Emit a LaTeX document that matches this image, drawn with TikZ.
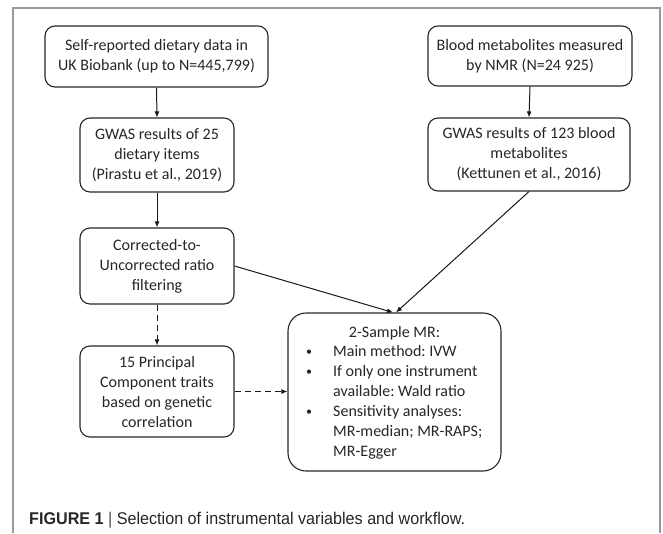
\documentclass[tikz,border=0pt]{standalone}
\usepackage{fontspec}
\setmainfont{Carlito}
\newfontfamily\capfont[FakeStretch=0.95]{Liberation Sans}
\usetikzlibrary{arrows.meta}
\frenchspacing
\begin{document}
\begin{tikzpicture}[x=1pt,y=-1pt,
  box/.style={draw=black!85, line width=1.1pt, rounded corners=10pt, align=center, inner sep=0pt,
    font=\fontsize{16}{20}\selectfont, text=black!85},
  txt/.style={inner sep=0pt, anchor=base west, font=\fontsize{16}{20}\selectfont, text=black!85},
  bul/.style={inner sep=0pt, anchor=base west, font=\fontsize{12}{20}\selectfont, text=black!85},
  conn/.style={draw=black!90, line width=1pt, -{Latex[length=6pt,width=5pt]}},
  dconn/.style={conn, dash pattern=on 6pt off 4pt},
  frameline/.style={draw=black!40, line width=1.5pt}]
\useasboundingbox (0,0) rectangle (663,533);
\draw[frameline] (13,533) -- (13,8) -- (660,8) -- (660,533);

\node[box, minimum width=223pt, minimum height=61pt] (b1) at (156.5,56.5)
  {Self-reported dietary data in\\UK Biobank (up to N=445,799)};
\node[box, minimum width=204pt, minimum height=60pt] (b2) at (530,56)
  {Blood metabolites measured\\by NMR (N=24 925)};
\node[box, minimum width=154pt, minimum height=74pt] (b3) at (157,155)
  {GWAS results of 25\\dietary items\\(Pirastu et al., 2019)};
\node[box, minimum width=202pt, minimum height=73pt] (b4) at (529,154.5)
  {GWAS results of 123 blood\\metabolites\\(Kettunen et al., 2016)};
\node[box, minimum width=154pt, minimum height=76pt] (b5) at (157,266)
  {Corrected-to-\\Uncorrected ratio\\filtering};
\node[box, minimum width=154pt, minimum height=91pt] (b6) at (157,391.5)
  {15 Principal\\Component traits\\based on genetic\\correlation};
\node[box, rounded corners=18pt, minimum width=213pt, minimum height=158pt] (b7) at (394.5,392) {};

\node[inner sep=0pt, anchor=base, font=\fontsize{16}{20}\selectfont, text=black!85] (t0) at (394.5,337) {2-Sample MR:};
\node[bul] (u1) at (306,355) {•};
\node[txt] (t1) at (333,356) {Main method: IVW};
\node[bul] (u2) at (306,375) {•};
\node[txt] (t2) at (333,376) {If only one instrument};
\node[txt] (t3) at (333,396) {available: Wald ratio};
\node[bul] (u3) at (306,415) {•};
\node[txt] (t4) at (333,416) {Sensitivity analyses:};
\node[txt] (t5) at (333,436) {MR-median; MR-RAPS;};
\node[txt] (t6) at (333,456) {MR-Egger};

\draw[conn] (b1.south) -- (b3.north);
\draw[conn] (b2.south) -- (b4.north);
\draw[conn] (b3.south) -- (b5.north);
\draw[dconn] (b5.south) -- (b6.north);
\draw[conn] (b5.east) -- ([xshift=-1.5pt]b7.north);
\draw[conn] (b4.south) -- ([xshift=1.5pt]b7.north);
\draw[dconn] (b6.east) -- (b6.east -| b7.west);

\node[inner sep=0pt, anchor=base west, font=\capfont\fontsize{17}{20}\selectfont, text=black!85] (cap) at (29,524)
  {\textbf{FIGURE 1} {\color{black!70}|} Selection of instrumental variables and workflow.};
\end{tikzpicture}
\end{document}
